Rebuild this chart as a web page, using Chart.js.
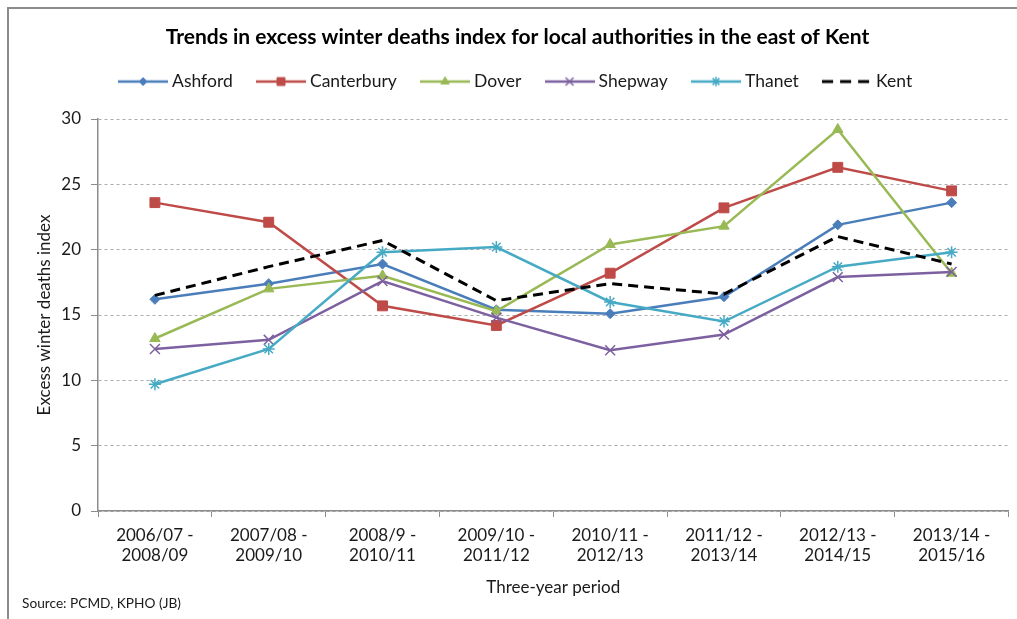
<!DOCTYPE html>
<html>
<head>
<meta charset="utf-8">
<title>Excess winter deaths index - east Kent</title>
<script src="https://cdn.jsdelivr.net/npm/chart.js@4.4.1/dist/chart.umd.min.js"></script>
<style>
  html, body { margin: 0; padding: 0; background: #fff; }
  #wrap { position: relative; width: 1017px; height: 619px; overflow: hidden; }
  #frame {
    position: absolute; left: 7px; top: 7px; width: 1100px; height: 700px;
    border-left: 2px solid #8c8c8c; border-top: 2px solid #8c8c8c;
  }
  #ewdChart { position: absolute; left: 0; top: 0; }
</style>
</head>
<body>
<div id="wrap">
  <div id="frame"></div>
  <canvas id="ewdChart" width="1017" height="619"></canvas>
</div>
<script>
// three-year rolling periods
const periods = [
    ["2006/07 -", "2008/09"],
    ["2007/08 -", "2009/10"],
    ["2008/9 -", "2010/11"],
    ["2009/10 -", "2011/12"],
    ["2010/11 -", "2012/13"],
    ["2011/12 -", "2013/14"],
    ["2012/13 -", "2014/15"],
    ["2013/14 -", "2015/16"]
];

// excess winter deaths index per local authority
const ashford    = [16.2, 17.4, 18.9, 15.4, 15.1, 16.4, 21.9, 23.6];
const canterbury = [23.6, 22.1, 15.7, 14.2, 18.2, 23.2, 26.3, 24.5];
const dover      = [13.2, 17.0, 18.0, 15.3, 20.4, 21.8, 29.2, 18.2];
const shepway    = [12.4, 13.1, 17.6, 14.8, 12.3, 13.5, 17.9, 18.3];
const thanet     = [9.7, 12.4, 19.8, 20.2, 16.0, 14.5, 18.7, 19.8];
const kent       = [16.5, 18.7, 20.7, 16.1, 17.4, 16.6, 21.0, 18.9];

const yTicks = [0, 5, 10, 15, 20, 25, 30];

const FONT = "Lato, 'Noto Sans', sans-serif";
const TEXT = "#1a1a1a";

const seriesStyle = [
    { label: "Ashford",    data: ashford,    color: "#4A7EBB", marker: "rectRot",  radius: 5,   markerWidth: 1 },
    { label: "Canterbury", data: canterbury, color: "#BE4B48", marker: "rect",     radius: 7,   markerWidth: 1 },
    { label: "Dover",      data: dover,      color: "#98B954", marker: "triangle", radius: 6,   markerWidth: 1 },
    { label: "Shepway",    data: shepway,    color: "#7D60A0", marker: "crossRot", radius: 7,   markerWidth: 1.5 },
    { label: "Thanet",     data: thanet,     color: "#46AAC5", marker: "star",     radius: 6,   markerWidth: 1.5 },
    { label: "Kent",       data: kent,       color: "#000000", marker: false,      radius: 0,   markerWidth: 0, dash: [10, 6] }
];

// little line + marker swatch for each legend entry
function legendIcon(s) {
    const c = document.createElement("canvas");
    c.width = 50;
    c.height = 16;
    const g = c.getContext("2d");
    g.strokeStyle = s.color;
    g.fillStyle = s.color;
    g.lineWidth = s.dash ? 3 : 2.5;
    if (s.dash) g.setLineDash([11, 7]);
    g.beginPath();
    g.moveTo(0, 8);
    g.lineTo(50, 8);
    g.stroke();
    g.setLineDash([]);
    if (s.marker) {
        g.lineWidth = s.markerWidth;
        Chart.helpers.drawPoint(g, {
            pointStyle: s.marker,
            radius: s.radius * 0.8,
            borderWidth: s.markerWidth,
            rotation: 0
        }, 25, 8);
    }
    return c;
}

const legendIcons = seriesStyle.map(legendIcon);

const datasets = seriesStyle.map((s, i) => ({
    label: s.label,
    data: s.data,
    borderColor: s.color,
    backgroundColor: s.color,
    borderWidth: s.dash ? 3 : 2.5,
    borderDash: s.dash || [],
    pointStyle: s.marker,
    pointRadius: s.radius,
    pointBorderWidth: s.markerWidth,
    pointBackgroundColor: s.color,
    pointBorderColor: s.color,
    tension: 0,
    order: seriesStyle.length - i
}));

const sourceNote = {
    id: "sourceNote",
    afterDraw(chart) {
        const ctx = chart.ctx;
        ctx.save();
        ctx.font = "13.7px " + FONT;
        ctx.fillStyle = TEXT;
        ctx.textBaseline = "middle";
        ctx.fillText("Source: PCMD, KPHO (JB)", 22, 604);
        ctx.restore();
    }
};

const ctx = document.getElementById("ewdChart").getContext("2d");
new Chart(ctx, {
    type: "line",
    data: { labels: periods, datasets: datasets },
    plugins: [sourceNote],
    options: {
        responsive: false,
        animation: false,
        events: [],
        layout: { padding: { left: 24, right: 6, top: 0, bottom: 0 } },
        plugins: {
            title: {
                display: true,
                text: "Trends in excess winter deaths index for local authorities in the east of Kent",
                color: "#000",
                font: { family: FONT, size: 21, weight: "bold", lineHeight: 1.2 },
                padding: { top: 24.4, bottom: -4.8 }
            },
            legend: {
                display: true,
                position: "top",
                labels: {
                    usePointStyle: true,
                    pointStyleWidth: 40.5,
                    padding: 28,
                    color: TEXT,
                    font: { family: FONT, size: 17.5 },
                    generateLabels(chart) {
                        const items = Chart.defaults.plugins.legend.labels.generateLabels(chart);
                        items.forEach(it => { it.pointStyle = legendIcons[it.datasetIndex]; });
                        return items.sort((a, b) => a.datasetIndex - b.datasetIndex);
                    }
                }
            },
            // empty spacer between legend and plot
            subtitle: {
                display: true,
                text: "",
                weight: 500,
                font: { size: 10, lineHeight: 1 },
                padding: { top: 8.7, bottom: 0 }
            },
            tooltip: { enabled: false }
        },
        scales: {
            x: {
                offset: true,
                grid: {
                    offset: true,
                    drawOnChartArea: false,
                    drawTicks: true,
                    tickLength: 6,
                    color: "#8c8c8c"
                },
                border: { display: true, color: "#8c8c8c", width: 1.5 },
                ticks: {
                    color: TEXT,
                    font: { family: FONT, size: 17, lineHeight: 1.2 },
                    padding: 8,
                    maxRotation: 0,
                    autoSkip: false
                },
                title: {
                    display: true,
                    text: "Three-year period",
                    color: TEXT,
                    font: { family: FONT, size: 17, lineHeight: 1.2 },
                    padding: { top: 0, bottom: 21 }
                },
                afterFit(scale) { scale.height = 108; }
            },
            y: {
                min: 0,
                max: 30,
                afterBuildTicks(scale) { scale.ticks = yTicks.map(v => ({ value: v })); },
                grid: {
                    color: "#ababab",
                    tickColor: "#8c8c8c",
                    tickLength: 7,
                    tickBorderDash: [],
                    lineWidth: 1
                },
                border: { display: true, color: "#8c8c8c", width: 1.5, dash: [3, 3] },
                ticks: {
                    color: TEXT,
                    font: { family: FONT, size: 17 },
                    padding: 10
                },
                title: {
                    display: true,
                    text: "Excess winter deaths index",
                    color: TEXT,
                    font: { family: FONT, size: 17, lineHeight: 1.2 },
                    padding: { top: 10, bottom: 0 }
                },
                afterFit(scale) { scale.width = 74; }
            }
        }
    }
});
</script>
</body>
</html>
